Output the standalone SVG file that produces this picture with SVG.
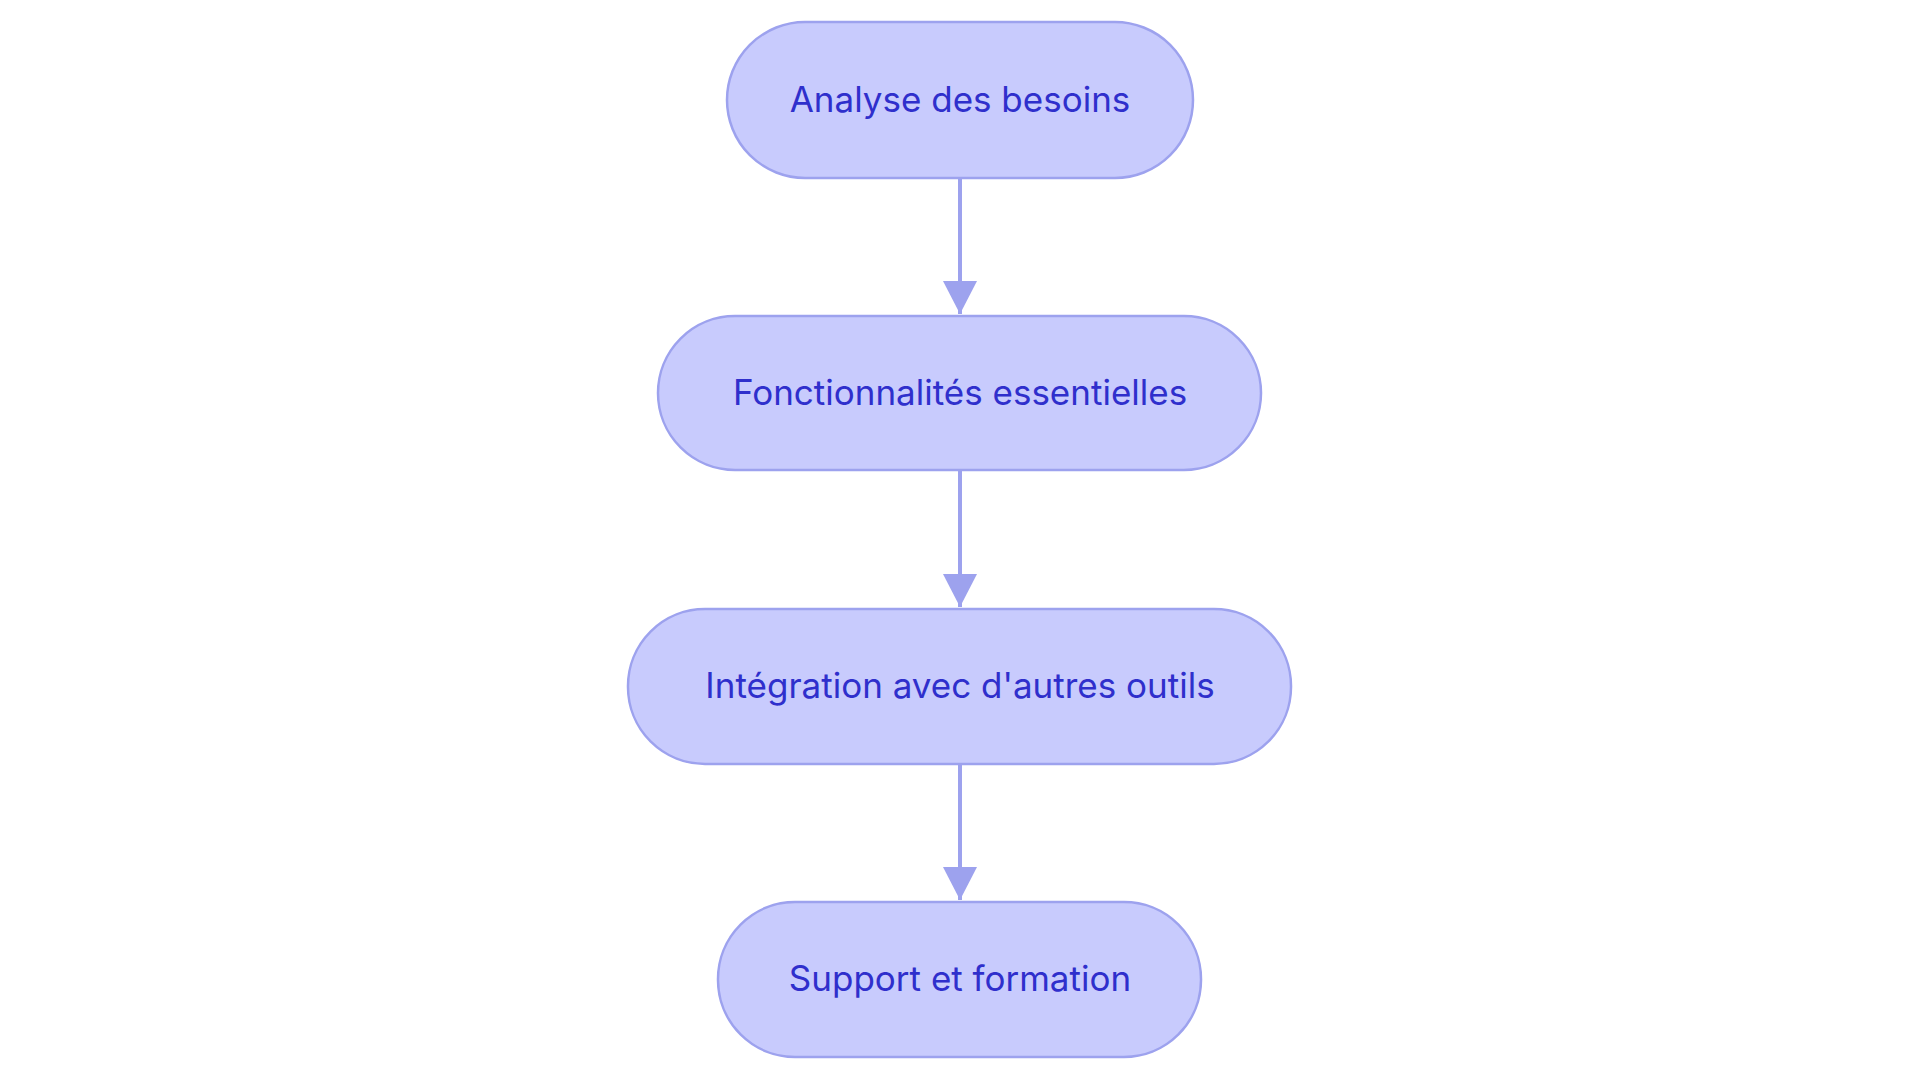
<svg xmlns="http://www.w3.org/2000/svg" width="1920" height="1083" viewBox="0 0 1920 1083">
<style>
.n{fill:#c8cbfd;stroke:#9da2ee;stroke-width:2.5}
.t{font-family:Inter,"Open Sans",sans-serif;font-size:35px;fill:#2f2fcc;text-anchor:middle;dominant-baseline:central}
.e{stroke:#9da2ee;stroke-width:4;fill:none;marker-end:url(#a)}
</style>
<defs><marker id="a" markerUnits="userSpaceOnUse" markerWidth="36" markerHeight="36" refX="17" refY="32" orient="auto-start-reverse" viewBox="0 0 36 36"><path d="M0,0 L34,0 L17,32 Z" transform="rotate(0)" fill="#9da2ee"/></marker></defs>
<rect width="1920" height="1083" fill="#fff"/>
<g id="edges">
<line class="e" x1="960" y1="178" x2="960" y2="314" style="marker-end:none"/>
<path d="M943,281 L977,281 L960,314 Z" fill="#9da2ee"/>
<line class="e" x1="960" y1="470" x2="960" y2="607" style="marker-end:none"/>
<path d="M943,574 L977,574 L960,607 Z" fill="#9da2ee"/>
<line class="e" x1="960" y1="764" x2="960" y2="900" style="marker-end:none"/>
<path d="M943,867 L977,867 L960,900 Z" fill="#9da2ee"/>
</g>
<g id="n1"><rect class="n" x="727" y="22" width="466" height="156" rx="78"/><text class="t" x="960" y="99">Analyse des besoins</text></g>
<g id="n2"><rect class="n" x="658" y="316" width="603" height="154" rx="77"/><text class="t" x="960" y="392">Fonctionnalités essentielles</text></g>
<g id="n3"><rect class="n" x="628" y="609" width="663" height="155" rx="77"/><text class="t" x="960" y="685">Intégration avec d'autres outils</text></g>
<g id="n4"><rect class="n" x="718" y="902" width="483" height="155" rx="77"/><text class="t" x="960" y="978">Support et formation</text></g>
</svg>
